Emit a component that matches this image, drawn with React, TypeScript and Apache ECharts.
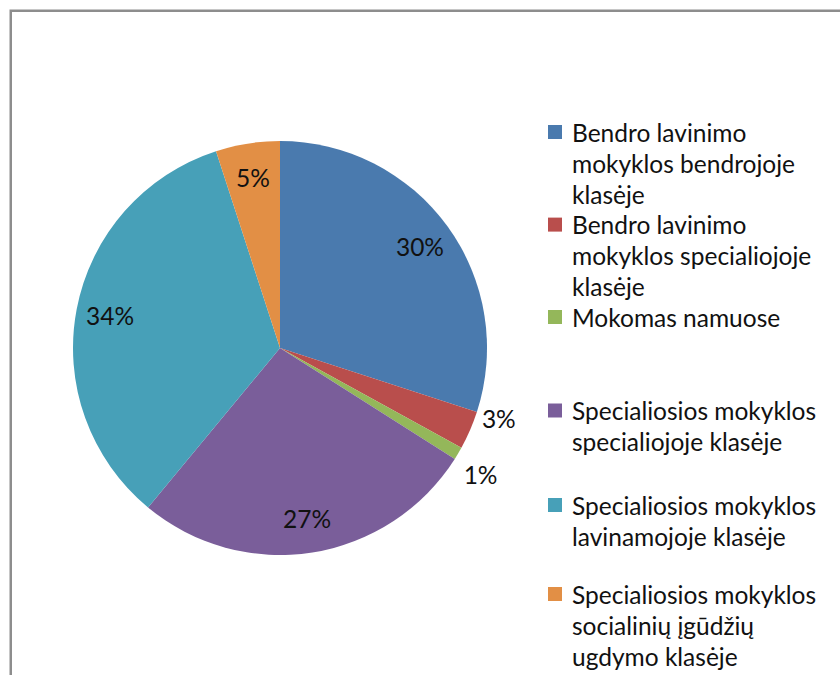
import React, { useEffect, useRef } from "react";
import * as echarts from "echarts";

const categories = [
  "Bendro lavinimo mokyklos bendrojoje klasėje",
  "Bendro lavinimo mokyklos specialiojoje klasėje",
  "Mokomas namuose",
  "Specialiosios mokyklos specialiojoje klasėje",
  "Specialiosios mokyklos lavinamojoje klasėje",
  "Specialiosios mokyklos socialinių įgūdžių ugdymo klasėje",
];
const legendLines = [
  ["Bendro lavinimo", "mokyklos bendrojoje", "klasėje"],
  ["Bendro lavinimo", "mokyklos specialiojoje", "klasėje"],
  ["Mokomas namuose"],
  ["Specialiosios mokyklos", "specialiojoje klasėje"],
  ["Specialiosios mokyklos", "lavinamojoje klasėje"],
  ["Specialiosios mokyklos", "socialinių įgūdžių", "ugdymo klasėje"],
];
const values = [30, 3, 1, 27, 34, 5];
const colors = ["#4a7aae", "#b94e4c", "#94b75a", "#7a5e9a", "#47a0b8", "#e28f45"];
const smallSlices = [1, 2];

// layout
const FONT = "Lato, 'Open Sans', sans-serif";
const FONT_SIZE = 24.5;
const LINE_H = 31;
const legendIconCenters = [132, 224.6, 317, 410.5, 505, 594];

export default function App() {
  const ref = useRef<HTMLDivElement>(null);
  useEffect(() => {
    if (!ref.current) return;
    const chart = echarts.init(ref.current, null, { renderer: "svg" });
    const data = categories.map((name, i) => ({
      name,
      value: values[i],
      itemStyle: { color: colors[i] },
    }));
    const legends = categories.map((name, i) => {
      const n = legendLines[i].length;
      const blanks = new Array(n - 1).fill(" ");
      return {
        data: [name],
        orient: "vertical",
        left: 548,
        top: legendIconCenters[i] - ((2 * n - 1) * LINE_H) / 2,
        padding: 0,
        itemWidth: 14,
        itemHeight: 14,
        itemGap: 0,
        icon: "rect",
        selectedMode: false,
        formatter: () => blanks.concat(legendLines[i]).join("\n"),
        textStyle: {
          fontFamily: FONT,
          fontSize: FONT_SIZE,
          lineHeight: LINE_H,
          color: "#111",
          padding: [0, 0, 0, 5],
        },
      };
    });
    chart.setOption({
      animation: false,
      backgroundColor: "#fff",
      legend: legends,
      graphic: [
        {
          type: "rect",
          shape: { x: 10.75, y: 10.75, width: 1000, height: 1000 },
          style: { fill: "none", stroke: "#8d8d8d", lineWidth: 2.5 },
          silent: true,
        },
      ],
      series: [
        {
          type: "pie",
          center: [280, 348],
          radius: 207,
          startAngle: 90,
          clockwise: true,
          avoidLabelOverlap: false,
          silent: true,
          itemStyle: { borderWidth: 0 },
          label: { show: false },
          labelLine: { show: false },
          data,
          z: 2,
        },
        {
          type: "pie",
          center: [280, 348],
          radius: 340,
          startAngle: 90,
          clockwise: true,
          avoidLabelOverlap: false,
          silent: true,
          itemStyle: { color: "rgba(0,0,0,0)", borderWidth: 0 },
          label: {
            show: true,
            position: "inside",
            formatter: "{c}%",
            fontFamily: FONT,
            fontSize: FONT_SIZE,
            color: "#111",
          },
          labelLine: { show: false },
          data: categories.map((name, i) => ({
            name,
            value: values[i],
            label: { show: !smallSlices.includes(i) },
          })),
          z: 3,
        },
        {
          type: "pie",
          center: [280, 348],
          radius: 460,
          startAngle: 90,
          clockwise: true,
          avoidLabelOverlap: false,
          silent: true,
          itemStyle: { color: "rgba(0,0,0,0)", borderWidth: 0 },
          label: {
            show: true,
            position: "inside",
            formatter: "{c}%",
            fontFamily: FONT,
            fontSize: FONT_SIZE,
            color: "#111",
          },
          labelLayout: (p: any) =>
            p.dataIndex === 1 ? { dx: 5, dy: -22 } : p.dataIndex === 2 ? { dx: 0, dy: 8 } : {},
          labelLine: { show: false },
          data: categories.map((name, i) => ({
            name,
            value: values[i],
            label: { show: smallSlices.includes(i) },
          })),
          z: 3,
        },
      ],
    });
    return () => chart.dispose();
  }, []);
  return (
    <div
      ref={ref}
      style={{ position: "fixed", left: 0, top: 0, width: 840, height: 675 }}
    />
  );
}
